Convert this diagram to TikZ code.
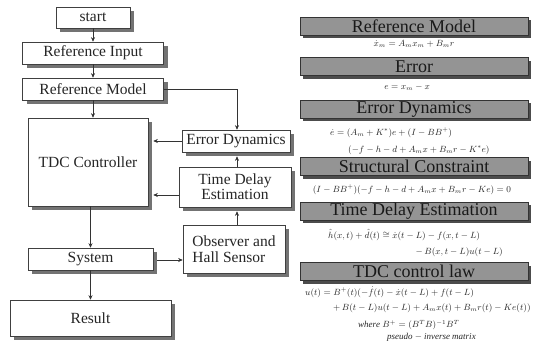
\documentclass[tikz,border=0pt]{standalone}
\usepackage{fontspec}
\setmainfont{Liberation Serif}
\usetikzlibrary{arrows.meta,shadows}
\begin{document}
\begin{tikzpicture}[x=1pt,y=-1pt,
  box/.style={draw=black!75, line width=0.6pt, fill=white, text=black!85,
    font=\fontsize{15.5}{17}\selectfont, inner sep=0pt,
    drop shadow={shadow xshift=4pt, shadow yshift=-4pt, fill=black!55, opacity=1}},
  banner/.style={draw=black!80, line width=0.5pt, fill=black!42, text=black!90,
    font=\fontsize{18}{18}\selectfont, inner sep=0pt,
    minimum width=228pt, minimum height=18pt,
    drop shadow={shadow xshift=3pt, shadow yshift=-3pt, fill=black!70, opacity=1}},
  eq/.style={font=\fontsize{9}{11}\selectfont, inner sep=0pt, text=black!85},
  arr/.style={draw=black!80, line width=0.6pt, -{Stealth[length=4.5pt,width=4pt]}}]
\useasboundingbox[fill=white] (0,0) rectangle (541,349);

% left flowchart
\node[box, minimum width=74pt, minimum height=21pt] (start) at (93,17.5) {start};
\node[box, minimum width=141pt, minimum height=22pt] (RefIn) at (93,53) {Reference Input};
\node[box, minimum width=141pt, minimum height=22pt] (RefMod) at (93,89) {Reference Model};
\node[box, minimum width=120pt, minimum height=88pt] (TDC) at (88,162) {TDC Controller};
\node[box, minimum width=125pt, minimum height=22pt] (Sys) at (90.5,259) {System};
\node[box, minimum width=161pt, minimum height=36pt] (Res) at (90.5,318) {Result};

\node[box, minimum width=108pt, minimum height=22pt] (ErrDyn) at (236,141) {Error Dynamics};
\node[box, minimum width=112pt, minimum height=40pt, align=center] (TDE) at (235,187) {Time Delay\\[-2pt]Estimation};
\node[box, minimum width=102pt, minimum height=48pt, align=left] (Obs) at (234,249) {Observer and\\[-1pt]Hall Sensor};

\coordinate (tdeY) at (0,195);
\coordinate (sysY) at (0,260);

\draw[arr] (start.south) -- (RefIn.north);
\draw[arr] (RefIn.south) -- (RefMod.north);
\draw[arr] (RefMod.south) -- (RefMod.south |- TDC.north);
\draw[arr] (RefMod.east) -| (237,0 |- ErrDyn.north);
\draw[arr] (ErrDyn.west) -- ([xshift=5pt]TDC.east |- ErrDyn.west);
\draw[arr] (TDE.west |- tdeY) -- ([xshift=5pt]TDC.east |- tdeY);
\draw[arr] (237,0 |- TDE.north) -- ([yshift=-4pt]237,0 |- ErrDyn.south);
\draw[arr] (237,0 |- Obs.north) -- ([yshift=-4pt]237,0 |- TDE.south);
\draw[arr] (Sys.south |- TDC.south) -- (Sys.north);
\draw[arr] ([xshift=4pt]Sys.east |- sysY) -- (Obs.west |- sysY);
\draw[arr] (Sys.south) -- (Res.north);

% right column
\node[banner] (bRM) at (414,26) {Reference Model};
\node[eq] (e1) at (414,44) {$\dot{x}_m = A_m x_m + B_m r$};
\node[banner] (bE) at (414,66.5) {Error};
\node[eq] (e2) at (407,87) {$e = x_m - x$};
\node[banner] (bED) at (414,109) {Error Dynamics};
\node[eq, anchor=west] (e3a) at (330,133) {$\dot{e} = (A_m + K^{*})e + (I - BB^{+})$};
\node[eq, anchor=west] (e3b) at (348,150) {$(-f - h - d + A_m x + B_m r - K^{*} e)$};
\node[banner] (bSC) at (414,166.5) {Structural Constraint};
\node[eq] (e4) at (412,190) {$(I - BB^{+})(-f - h - d + A_m x + B_m r - Ke) = 0$};
\node[banner] (bTDE) at (414,211) {Time Delay Estimation};
\node[eq, anchor=west] (e5a) at (328,235) {$\hat{h}(x,t) + \hat{d}(t) \cong \dot{x}(t-L) - f(x,t-L)$};
\node[eq, anchor=east] (e5b) at (503,252) {$-\,B(x,t-L)u(t-L)$};
\node[banner] (bLaw) at (414,271.5) {TDC control law};
\node[eq, anchor=west] (e6a) at (305,292) {$u(t) = B^{+}(t)(-\dot{f}(t) - \dot{x}(t-L) + f(t-L)$};
\node[eq, anchor=west] (e6b) at (333,308) {$+\,B(t-L)u(t-L) + A_m x(t) + B_m r(t) - Ke(t))$};
\node[eq, anchor=west] (e6c) at (358,325) {$\mathit{where}\ B^{+} = (B^{T}B)^{-1}B^{T}$};
\node[eq, anchor=west] (e6d) at (387,337) {$\mathit{pseudo} - \mathit{inverse}\ \mathit{matrix}$};
\end{tikzpicture}
\end{document}
